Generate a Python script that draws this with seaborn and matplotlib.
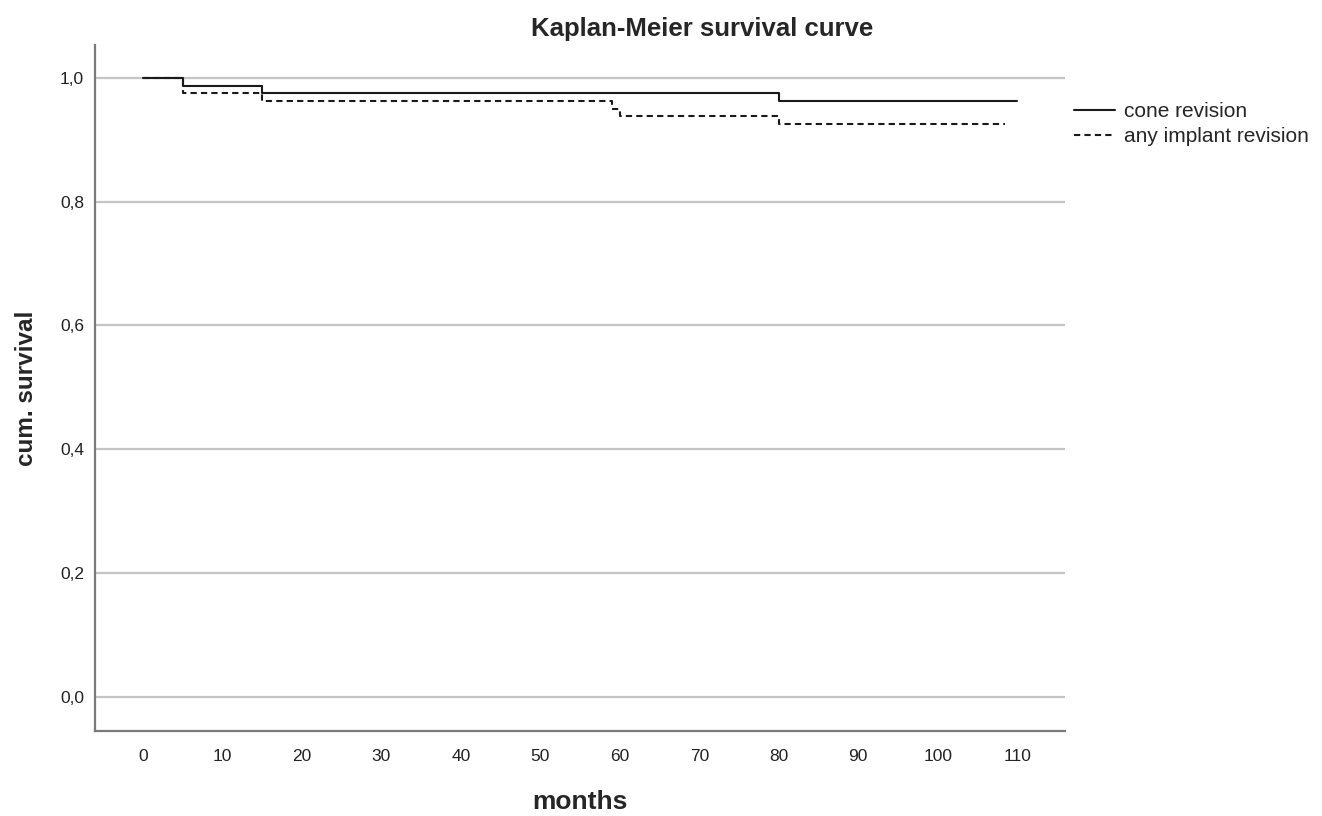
import pandas as pd
import seaborn as sns
import matplotlib.pyplot as plt

# Kaplan-Meier step values
cone_months = [0, 5, 15, 80, 110]
cone_surv = [1.0, 0.9875, 0.975, 0.9625, 0.9625]
any_months = [0, 5, 15, 59, 60, 80, 108.5]
any_surv = [1.0, 0.975, 0.9625, 0.95, 0.9375, 0.925, 0.925]
series_names = ["cone revision", "any implant revision"]
x_ticks = list(range(0, 111, 10))
y_ticks = [0.0, 0.2, 0.4, 0.6, 0.8, 1.0]

df = pd.concat([
    pd.DataFrame({"months": cone_months, "surv": cone_surv, "group": series_names[0]}),
    pd.DataFrame({"months": any_months, "surv": any_surv, "group": series_names[1]}),
])

sns.set_style("white")
plt.rcParams["font.family"] = ["Liberation Sans", "DejaVu Sans"]

fig = plt.figure(figsize=(13.22, 8.16), dpi=100)
ax = fig.add_axes([0.0719, 0.1042, 0.7337, 0.8407])

sns.lineplot(data=df, x="months", y="surv", hue="group", style="group",
             palette=["#1a1a1a", "#1a1a1a"], dashes=[(None, None), (3, 2)],
             drawstyle="steps-post", estimator=None, linewidth=1.5, ax=ax,
             legend=False)

ax.set_xlim(-6, 116)
ax.set_ylim(-0.055, 1.053)
ax.set_xticks(x_ticks)
ax.set_yticks(y_ticks)
ax.set_yticklabels([f"{v:.1f}".replace(".", ",") for v in y_ticks])
ax.tick_params(axis="both", labelsize=12.5, colors="#222222")
ax.tick_params(axis="x", length=0, pad=13)
ax.tick_params(axis="y", direction="in", length=3, width=1, color="#9a9a9a", pad=8)
ax.yaxis.grid(True, color="#c4c4c4", linewidth=1.6)
ax.set_axisbelow(True)
for side in ["top", "right"]:
    ax.spines[side].set_visible(False)
for side in ["left", "bottom"]:
    ax.spines[side].set_color("#7a7a7a")
    ax.spines[side].set_linewidth(1.6)

ax.set_xlabel("months", fontsize=19, fontweight="bold", labelpad=19)
ax.set_ylabel("cum. survival", fontsize=17.5, fontweight="bold", labelpad=16)
fig.text(0.531, 0.965, "Kaplan-Meier survival curve", ha="center", va="center",
         fontsize=18.5, fontweight="bold")

handles = [plt.Line2D([], [], color="#1a1a1a", lw=1.5),
           plt.Line2D([], [], color="#1a1a1a", lw=1.5, dashes=(3, 2))]
fig.legend(handles, series_names, loc="upper left", bbox_to_anchor=(0.798, 0.898),
           frameon=False, fontsize=15, handlelength=2.0, handletextpad=0.4,
           labelspacing=0.3)

plt.savefig("out.png", dpi=100)
plt.close()
